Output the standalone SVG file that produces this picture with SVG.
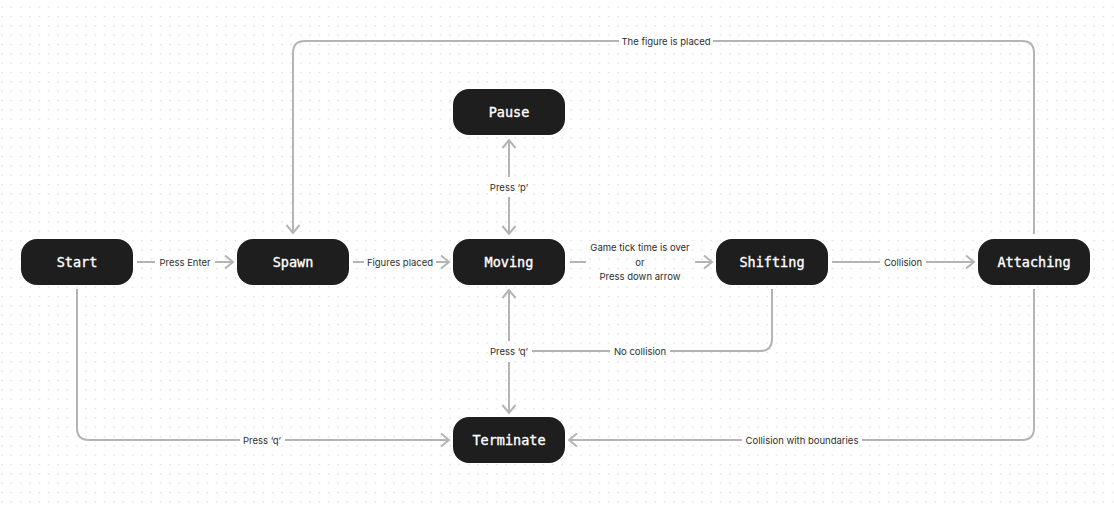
<svg xmlns="http://www.w3.org/2000/svg" width="1114" height="505" viewBox="0 0 1114 505">
  <defs>
    <pattern id="dots" patternUnits="userSpaceOnUse" x="0" y="0" width="9.333" height="9.333">
      <circle cx="2" cy="7.33" r="0.7" fill="#d2d2d2"/>
    </pattern>
    <marker id="arr" markerUnits="userSpaceOnUse" viewBox="-10 -8 12 16" refX="0" refY="0" markerWidth="12" markerHeight="16" orient="auto">
      <path d="M-8,-6.5 L0,0 L-8,6.5" fill="none" stroke="#b4b4b4" stroke-width="2" stroke-linejoin="miter"/>
    </marker>
    <style>
      .node rect { fill: #1e1e1e; }
      .node text { fill: #ffffff; stroke: #ffffff; stroke-width: 0.35px; font-family: "DejaVu Sans Mono", "Liberation Mono", monospace; font-size: 13.5px; font-weight: normal; text-anchor: middle; dominant-baseline: central; }
      .edge { fill: none; stroke: #b4b4b4; stroke-width: 2; }
      .arrow { marker-end: url(#arr); }
      .lbl { fill: #2e2e2e; font-family: Inter, "Liberation Sans", sans-serif; font-size: 9.5px; text-anchor: middle; dominant-baseline: central; }
    </style>
  </defs>
  <rect width="1114" height="505" fill="#ffffff"/>
  <rect width="1114" height="505" fill="url(#dots)"/>

  <g id="connectors">
    <!-- Start -> Spawn -->
    <path class="edge" d="M137,262 H155"/>
    <path class="edge arrow" d="M215,262 H233"/>
    <text class="lbl" x="185" y="262">Press Enter</text>
    <!-- Spawn -> Moving -->
    <path class="edge" d="M353,262 H364"/>
    <path class="edge arrow" d="M436,262 H449"/>
    <text class="lbl" x="400" y="262">Figures placed</text>
    <!-- Moving -> Shifting -->
    <path class="edge" d="M570,262 H586"/>
    <path class="edge arrow" d="M695,262 H712"/>
    <text class="lbl" x="640" y="247">Game tick time is over</text>
    <text class="lbl" x="640" y="262">or</text>
    <text class="lbl" x="640" y="276">Press down arrow</text>
    <!-- Shifting -> Attaching -->
    <path class="edge" d="M832,262 H880"/>
    <path class="edge arrow" d="M926,262 H974"/>
    <text class="lbl" x="903" y="262">Collision</text>
    <!-- Moving <-> Pause -->
    <path class="edge arrow" d="M509,177 V140"/>
    <path class="edge arrow" d="M509,197 V234"/>
    <text class="lbl" x="509" y="187">Press ‘p’</text>
    <!-- Attaching -> Spawn -->
    <path class="edge" d="M1034,234 V53 Q1034,41 1022,41 H713"/>
    <path class="edge arrow" d="M619,41 H305 Q293,41 293,53 V233"/>
    <text class="lbl" x="666" y="41">The figure is placed</text>
    <!-- Start -> Terminate -->
    <path class="edge" d="M77,289 V428 Q77,440 89,440 H240"/>
    <path class="edge arrow" d="M285,440 H449"/>
    <text class="lbl" x="262" y="440">Press ‘q’</text>
    <!-- Attaching -> Terminate -->
    <path class="edge" d="M1034,289 V428 Q1034,440 1022,440 H862"/>
    <path class="edge arrow" d="M742,440 H569"/>
    <text class="lbl" x="802" y="440">Collision with boundaries</text>
    <!-- Shifting -> Moving -->
    <path class="edge" d="M772,289 V339 Q772,351 760,351 H670"/>
    <path class="edge" d="M610,351 H532"/>
    <path class="edge arrow" d="M509,341 V290"/>
    <text class="lbl" x="640" y="351">No collision</text>
    <!-- Moving -> Terminate -->
    <path class="edge arrow" d="M509,362 V413"/>
    <text class="lbl" x="509" y="351">Press ‘q’</text>
  </g>

  <g id="start" class="node">
    <rect x="21" y="239" width="112" height="46" rx="16"/>
    <text x="77" y="262">Start</text>
  </g>
  <g id="spawn" class="node">
    <rect x="237" y="239" width="112" height="46" rx="16"/>
    <text x="293" y="262">Spawn</text>
  </g>
  <g id="moving" class="node">
    <rect x="453" y="239" width="112" height="46" rx="16"/>
    <text x="509" y="262">Moving</text>
  </g>
  <g id="pause" class="node">
    <rect x="453" y="89" width="112" height="46" rx="16"/>
    <text x="509" y="112">Pause</text>
  </g>
  <g id="shifting" class="node">
    <rect x="716" y="239" width="112" height="46" rx="16"/>
    <text x="772" y="262">Shifting</text>
  </g>
  <g id="attaching" class="node">
    <rect x="978" y="239" width="112" height="46" rx="16"/>
    <text x="1034" y="262">Attaching</text>
  </g>
  <g id="terminate" class="node">
    <rect x="453" y="417" width="112" height="46" rx="16"/>
    <text x="509" y="440">Terminate</text>
  </g>
</svg>
